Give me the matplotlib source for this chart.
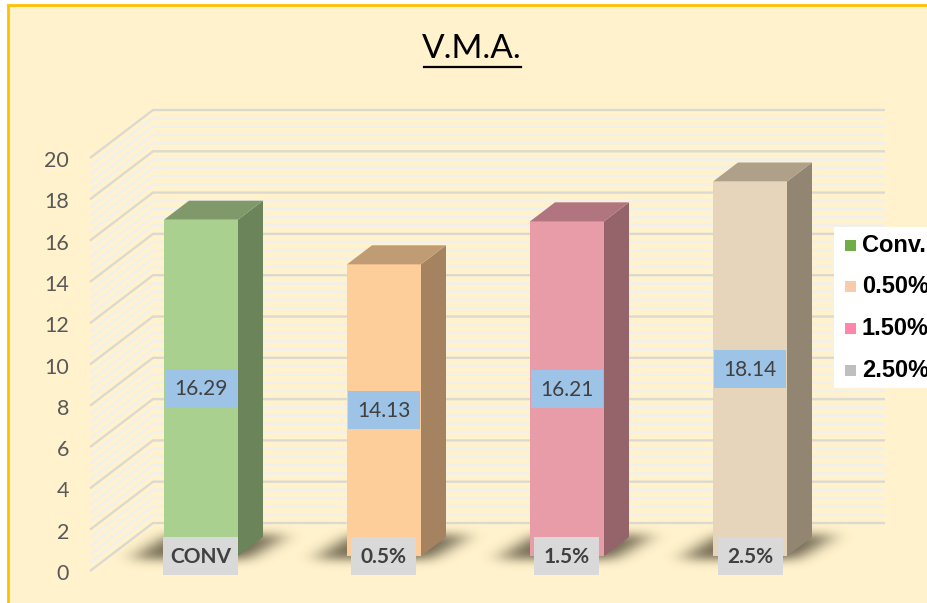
import numpy as np
from matplotlib import pyplot as plt
from matplotlib.patches import Polygon, Rectangle

categories = ['CONV', '0.5%', '1.5%', '2.5%']
values = [16.29, 14.13, 16.21, 18.14]
legend_names = ['Conv.', '0.50%', '1.50%', '2.50%']
legend_colors = ['#70AD47', '#F8CBAD', '#FF85AC', '#BFBFBF']
front_colors = ['#A9D08E', '#FDCD9A', '#E79CA8', '#E6D5BA']
side_colors = ['#6B8459', '#A68360', '#94646A', '#928673']
top_colors = ['#80996B', '#C09C74', '#B0757F', '#AFA08A']
y_ticks = np.arange(0, 21, 2)

BG = '#FFF2CC'
# pixels per unit on both axes
PX_X = 183.0
PX_Y = 20.65
W, H = 928, 603
DEPTH_X = 63 / PX_X
DEPTH_Y = 48 / PX_Y
BAR_W = 74 / PX_X


def px(x):
    return (x - 201) / PX_X


def py(y):
    return (571 - y) / PX_Y


def proj(x, y, d):
    # d is the depth, 0 = front of the floor, 1 = back wall
    return (x + d * DEPTH_X, y + d * DEPTH_Y)


def soft_shadow(i):
    # blurred parallelogram on the floor, offsets in pixels from the bar's left edge
    gx, gy = np.meshgrid(np.arange(-70, 170), np.arange(505, 590))
    frac = (gy - 535) / (558 - 535)
    x_l = 4 + frac * (-33 - 4)
    x_r = 122 + frac * (84 - 122)
    mask = ((gy >= 535) & (gy <= 558) & (gx >= x_l) & (gx <= x_r)).astype(float)
    kx = np.exp(-np.arange(-30, 31) ** 2 / (2 * 10.0 ** 2))
    ky = np.exp(-np.arange(-24, 25) ** 2 / (2 * 5.0 ** 2))
    kx /= kx.sum()
    ky /= ky.sum()
    mask = np.apply_along_axis(lambda r: np.convolve(r, kx, mode='same'), 1, mask)
    mask = np.apply_along_axis(lambda c: np.convolve(c, ky, mode='same'), 0, mask)
    img = np.zeros(mask.shape + (4,))
    img[..., 0], img[..., 1], img[..., 2] = 0.30, 0.27, 0.19
    img[..., 3] = mask * 0.8
    left_px = 164 + 183 * i
    ax.imshow(img, extent=(px(left_px - 70), px(left_px + 170), py(590), py(505)),
              origin='upper', aspect='auto', zorder=2, interpolation='bilinear')


fig = plt.figure(figsize=(9.28, 6.03), dpi=100, facecolor='white')
ax = fig.add_axes([0, 0, 1, 1])
plt.rcParams['font.family'] = ['Lato', 'DejaVu Sans']

# panel with the orange border, only left and top are in the crop
ax.add_patch(Rectangle((px(8), py(H + 10)), px(W + 10) - px(8), py(5) - py(H + 10),
                       fc=BG, ec='#FFC000', lw=2, zorder=0))

# walls, side wall + back wall
left = px(90)
right = px(885) - DEPTH_X
for v in np.arange(0, 20.01, 0.4):
    major = abs(v / 2 - round(v / 2)) < 1e-6
    col = '#DBD9D2' if major else '#F1F0EC'
    lw = 1.7 if major else 1.9
    x0, y0 = proj(left, v, 0)
    x1, y1 = proj(left, v, 1)
    x2, y2 = proj(right, v, 1)
    ax.plot([x0, x1, x2], [y0, y1, y2], color=col, lw=lw, zorder=1 if not major else 1.5,
            solid_joinstyle='miter', solid_capstyle='butt')

for v in y_ticks:
    ax.text(px(69), v - 3 / PX_Y, str(v), ha='right', va='center', fontsize=15.5, color='#595959')

# bars
d0 = 0.31
d1 = 0.31 + 25 / 63
for i, v in enumerate(values):
    xa = i - BAR_W / 2 - d0 * DEPTH_X
    xb = xa + BAR_W

    soft_shadow(i)

    fa = proj(xa, 0, d0)
    fb = proj(xb, 0, d0)
    ta = proj(xa, v, d0)
    tb = proj(xb, v, d0)
    bb = proj(xb, 0, d1)
    tb2 = proj(xb, v, d1)
    ta2 = proj(xa, v, d1)
    ax.add_patch(Polygon([fa, fb, tb, ta], fc=front_colors[i], ec='none', zorder=3))
    ax.add_patch(Polygon([fb, bb, tb2, tb], fc=side_colors[i], ec='none', zorder=3))
    ax.add_patch(Polygon([ta, tb, tb2, ta2], fc=top_colors[i], ec='none', zorder=3))

    # value label box in the middle of the front face
    ym = fa[1] + v / 2
    cx = (fa[0] + fb[0]) / 2
    ax.text(cx, ym - 1 / PX_Y, f'{v:.2f}', ha='center', va='center', fontsize=15, color='#404040', zorder=6)
    ax.add_patch(Rectangle((cx - 36 / PX_X, ym - 19 / PX_Y), 72 / PX_X, 38 / PX_Y,
                           fc='#9DC3E6', ec='none', zorder=5))

    # category box
    bw = 75 if i == 0 else 65
    ax.add_patch(Rectangle((cx - bw / 2 / PX_X, py(575)), bw / PX_X, 38 / PX_Y,
                           fc='#D9D9D9', ec='none', zorder=5))
    ax.text(cx, py(557), categories[i], ha='center', va='center', fontsize=15,
            fontweight='bold', color='#404040', zorder=6)

# title
ax.text(px(472), py(49), 'V.M.A.', ha='center', va='center', fontsize=24, color='black')
ax.plot([px(424), px(521)], [py(67), py(67)], color='black', lw=1.6)

# legend, cut off by the right edge like the picture
ax.add_patch(Rectangle((px(834), py(388)), px(W + 5) - px(834), 161 / PX_Y,
                       fc='white', ec='none', zorder=7))
for j, name in enumerate(legend_names):
    yy = 245 + 41.7 * j
    ax.add_patch(Rectangle((px(845.5), py(yy + 5.5)), 11 / PX_X, 11 / PX_Y,
                           fc=legend_colors[j], ec='none', zorder=8))
    ax.text(px(862), py(yy), name, ha='left', va='center', fontsize=17, fontweight='bold',
            family=['Liberation Sans', 'DejaVu Sans'], color='black', zorder=8)

ax.set_xlim(px(0), px(W))
ax.set_ylim(py(H), py(0))
ax.axis('off')

fig.savefig('out.png', dpi=100, facecolor='white')
